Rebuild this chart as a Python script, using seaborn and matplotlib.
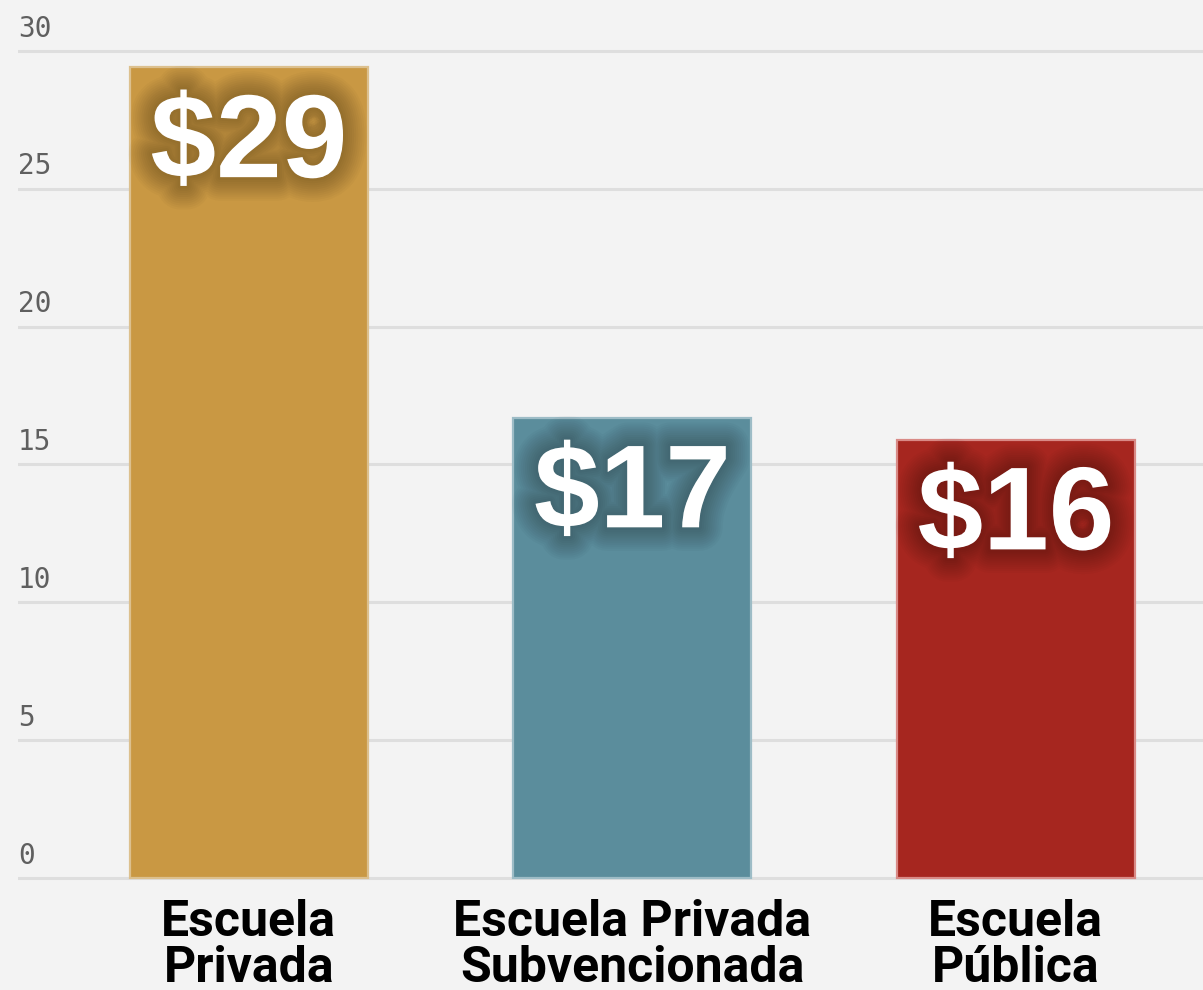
import numpy as np
import pandas as pd
import seaborn as sns
import matplotlib.pyplot as plt
import matplotlib.patheffects as pe

# data
categorias = ["Escuela\nPrivada", "Escuela Privada\nSubvencionada", "Escuela\nPública"]
valores = [29.4, 16.7, 15.9]
etiquetas = ["$29", "$17", "$16"]
colores = ["#c99843", "#5b8d9c", "#a6261f"]
bordes = ["#dcc08e", "#9dbcc6", "#d98a86"]
yticks = [0, 5, 10, 15, 20, 25, 30]

df = pd.DataFrame({"categoria": categorias, "valor": valores})

sns.set_style("white")
plt.rcParams["figure.facecolor"] = "#f3f3f3"
plt.rcParams["axes.facecolor"] = "#f3f3f3"

fig = plt.figure(figsize=(12.03, 9.9), dpi=100)
# axes placed so 0 sits at ~878px and 30 at ~51px
px_unit = 27.57
y0, y1 = -0.15, 30.3
bottom_px = 878 + (0 - y0) * px_unit
height_px = (y1 - y0) * px_unit
ax = fig.add_axes([18 / 1203, (990 - bottom_px) / 990, 1 - 18 / 1203, height_px / 990])

sns.barplot(data=df, x="categoria", y="valor", hue="categoria", palette=colores,
            width=0.62, saturation=1, legend=False, ax=ax, zorder=3)

for bar, ec in zip(ax.patches, bordes):
    bar.set_edgecolor(ec)
    bar.set_linewidth(1.6)

ax.set_xlim(-0.602, 2.488)
ax.set_ylim(y0, y1)
ax.set_yticks(yticks)
ax.set_yticklabels([])
ax.yaxis.grid(True, color="#dedede", linewidth=2.2)
ax.set_axisbelow(True)
ax.tick_params(length=0)
for s in ax.spines.values():
    s.set_visible(False)
ax.set_xlabel("")
ax.set_ylabel("")

# y tick labels sit just above each gridline, on the left
for t in yticks:
    ax.annotate(str(t), xy=(0, t), xycoords=("axes fraction", "data"),
                xytext=(0, 6), textcoords="offset points", ha="left", va="bottom",
                fontsize=20, color="#5f5f5f", family="DejaVu Sans Mono")

ax.set_xticks(range(len(categorias)))
ax.set_xticklabels(categorias, fontsize=36, fontweight="bold", color="black",
                   family="Roboto", linespacing=0.97)
ax.tick_params(axis="x", pad=12)

# value labels with a soft dark glow
sombra = [pe.Stroke(linewidth=w, foreground="black", alpha=0.025) for w in range(34, 1, -3)]
for i, (v, lab) in enumerate(zip(valores, etiquetas)):
    ax.annotate(lab, xy=(i, v), xytext=(0, -79), textcoords="offset points",
                ha="center", va="baseline", fontsize=85, fontweight="bold",
                color="white", family="Liberation Sans", zorder=5,
                path_effects=sombra + [pe.Normal()])

fig.savefig("out.png", dpi=100, facecolor=fig.get_facecolor())
